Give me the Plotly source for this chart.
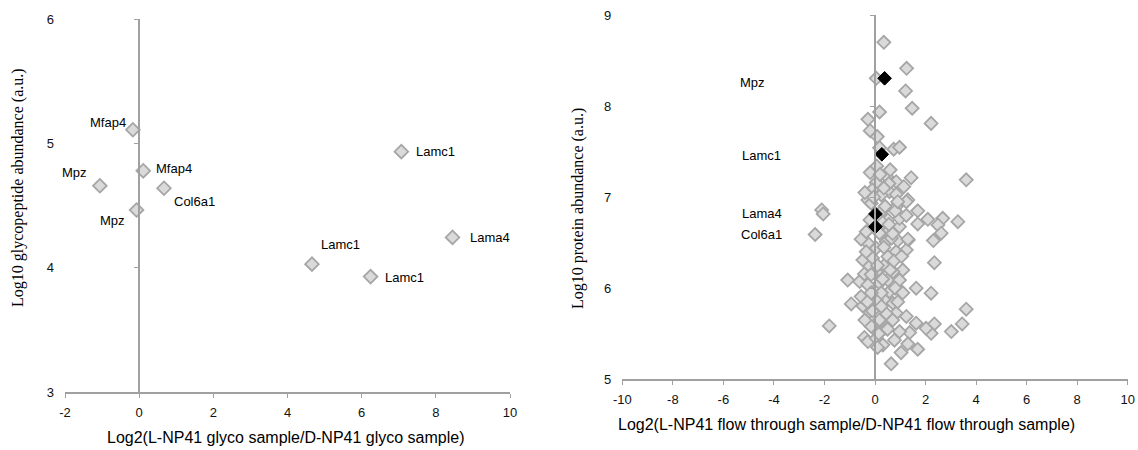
import plotly.graph_objects as go

# ---------------- Left chart: glycopeptides ----------------
glyco_labels = ["Mfap4", "Mfap4", "Mpz", "Col6a1", "Mpz", "Lamc1", "Lama4", "Lamc1", "Lamc1"]
glyco_log2 = [-0.17, 0.11, -1.06, 0.67, -0.07, 7.07, 8.45, 4.66, 6.24]
glyco_log10 = [5.11, 4.78, 4.66, 4.64, 4.465, 4.934, 4.245, 4.03, 3.93]

# ---------------- Right chart: flow-through proteins ----------------
flow_log2 = [
    0.35, 1.25, 0.05, 1.21, 1.47, 0.18, -0.28, 2.22, -0.19, 0.09, 0.18, 0.74, 0.97, 3.61,
    0.07, -0.19, 0.47, 1.43, 0.05, 0.84, 1.14, -0.11, 0.57, 0.25, 0.84, -0.28, 1.30,
    -2.11, -2.05, -2.37, 1.69, 2.09, 1.69, 2.68, 3.28, 2.49, 2.62, 2.31, 2.35, 2.22,
    3.61, 3.45, 3.02, 2.35, 2.22, -1.81, -0.94, -1.08, 0.64, 1.69, 1.03, 1.63, 1.32,
    1.63, 2.02, 1.37, 1.30, 0.31, -0.42, -0.28, 0.05, 0.77, 0.97, 1.24, 0.18, -0.15,
    0.44, -0.22, -0.48, 0.38, 0.71, 0.84, 0.05, -0.55, -0.09, 0.57, 0.97, -0.61, -0.28,
    0.18, 0.51, 0.97, 1.10, 0.71, 0.05, -0.42, -0.22, 0.38, -0.48, -0.09, 0.51, 0.84,
    1.24, 0.05, -0.28, -0.55, 0.44, 0.90, 1.30, 0.18, -0.35, 0.57, 0.97, 0.51, 0.97,
    1.24, 0.31, 0.84, -0.15, 1.24,
    0.30, 0.65, 0.10, 0.60, -0.10, 0.45, 0.75, 0.25, -0.35, 0.80, 0.55, -0.05, 0.35,
    0.70, 0.15, -0.30,
    0.20, 0.60, -0.40, 0.90, 0.40, -0.20, 0.70, 0.35, -0.15, 0.30, 0.80, -0.40, 0.50,
    0.90, 0.10, -0.15, 0.55, 1.05, 1.10, 0.25,
]
flow_log10 = [
    8.70, 8.415, 8.305, 8.166, 7.976, 7.935, 7.855, 7.81, 7.73, 7.665, 7.543, 7.526, 7.548, 7.19,
    7.34, 7.27, 7.225, 7.214, 7.16, 7.17, 7.115, 7.08, 7.06, 7.024, 7.03, 6.97, 6.97,
    6.86, 6.816, 6.59, 6.85, 6.757, 6.706, 6.768, 6.731, 6.695, 6.604, 6.523, 6.28, 5.945,
    5.77, 5.608, 5.524, 5.608, 5.505, 5.586, 5.827, 6.09, 5.17, 5.33, 5.293, 6.0, 6.53,
    5.616, 5.56, 5.513, 5.39, 5.378, 5.46, 5.414, 5.45, 5.43, 5.524, 5.69, 5.652, 5.58,
    5.56, 5.743, 5.806, 5.87, 5.835, 5.726, 5.87, 5.908, 5.945, 5.963, 5.98, 6.073, 6.036,
    6.055, 6.09, 6.09, 6.2, 6.18, 6.18, 6.157, 6.245, 6.256, 6.31, 6.33, 6.347, 6.402,
    6.42, 6.44, 6.494, 6.538, 6.51, 6.523, 6.538, 6.604, 6.62, 6.64, 6.676, 6.75, 6.768,
    6.8, 6.86, 6.896, 6.933, 6.95,
    6.72, 6.55, 6.25, 6.2, 5.75, 5.72, 6.3, 5.95, 6.4, 6.85, 7.15, 7.0, 7.1,
    5.65, 5.5, 5.85,
    7.25, 7.30, 7.05, 6.95, 6.90, 6.75, 6.60, 6.45, 6.15, 6.10, 6.00, 5.65, 5.55,
    5.85, 5.35, 5.95, 6.70, 6.35, 5.95, 5.80,
]

hl_labels = ["Mpz", "Lamc1", "Lama4", "Col6a1"]
hl_log2 = [0.38, 0.27, 0.02, 0.02]
hl_log10 = [8.305, 7.47, 6.816, 6.676]

# tick values / labels
left_xticks = [-2, 0, 2, 4, 6, 8, 10]
left_yticks = [3, 4, 5, 6]
right_xticks = [-10, -8, -6, -4, -2, 0, 2, 4, 6, 8, 10]
right_yticks = [5, 6, 7, 8, 9]

# label offsets in pixels (layout only)
glyco_label_shift = [(-25, 7), (31, 2), (-25, 13), (30, -13), (-24, -10),
                     (34, 0), (37, 0), (29, 20), (34, -1)]
hl_label_shift = [(-132, -4), (-120, -1), (-114, 0), (-114, -8)]

W, H = 1138, 450
AXIS_COLOR = "#a0a0a0"
FILL = "#dadada"
EDGE = "#a6a6a6"
FONT = "Liberation Sans, Arial, sans-serif"
SERIF = "Liberation Serif, Times New Roman, serif"

# domains (pixel -> paper)
lx0, lx1 = 65 / W, 510 / W
ly0, ly1 = (H - 392.3) / H, (H - 19) / H
rx0, rx1 = 622.3 / W, 1127.7 / W
ry0, ry1 = (H - 379.3) / H, (H - 15) / H

lrange = [-2, 10]
rrange = [-10, 10]
lzero = lx0 + (lx1 - lx0) * (0 - lrange[0]) / (lrange[1] - lrange[0])
rzero = rx0 + (rx1 - rx0) * (0 - rrange[0]) / (rrange[1] - rrange[0])

fig = go.Figure()

# carriers for the x=0 vertical axis lines (no visible marks)
fig.add_trace(go.Scatter(x=[None], y=[None], xaxis="x", yaxis="y3", mode="markers",
                         showlegend=False, hoverinfo="skip"))
fig.add_trace(go.Scatter(x=[None], y=[None], xaxis="x2", yaxis="y4", mode="markers",
                         showlegend=False, hoverinfo="skip"))

fig.add_trace(go.Scatter(
    x=glyco_log2, y=glyco_log10, mode="markers", xaxis="x", yaxis="y",
    marker=dict(symbol="diamond", size=10.5, color=FILL, line=dict(color=EDGE, width=1.8)),
    showlegend=False, hoverinfo="skip"))

fig.add_trace(go.Scatter(
    x=flow_log2, y=flow_log10, mode="markers", xaxis="x2", yaxis="y2",
    marker=dict(symbol="diamond", size=10, color=FILL, line=dict(color=EDGE, width=1.8)),
    showlegend=False, hoverinfo="skip"))

fig.add_trace(go.Scatter(
    x=hl_log2, y=hl_log10, mode="markers", xaxis="x2", yaxis="y2",
    marker=dict(symbol="diamond", size=10.5, color="black", line=dict(color="black", width=1)),
    showlegend=False, hoverinfo="skip"))

annotations = []
for lab, xv, yv, (dx, dy) in zip(glyco_labels, glyco_log2, glyco_log10, glyco_label_shift):
    annotations.append(dict(x=xv, y=yv, xref="x", yref="y", text=lab, showarrow=False,
                            xanchor="center", yanchor="middle",
                            xshift=dx, yshift=dy, font=dict(family=FONT, size=13, color="black")))
for lab, xv, yv, (dx, dy) in zip(hl_labels, hl_log2, hl_log10, hl_label_shift):
    annotations.append(dict(x=xv, y=yv, xref="x2", yref="y2", text=lab, showarrow=False,
                            xanchor="center", yanchor="middle",
                            xshift=dx, yshift=dy, font=dict(family=FONT, size=13, color="black")))

# axis titles
title_common = dict(xref="paper", yref="paper", showarrow=False, xanchor="center", yanchor="middle")
annotations += [
    dict(x=285.5 / W, y=(H - 437) / H, text="Log2(L-NP41 glyco sample/D-NP41 glyco sample)",
         font=dict(family=FONT, size=16, color="black"), **title_common),
    dict(x=846.5 / W, y=(H - 424) / H,
         text="Log2(L-NP41 flow through sample/D-NP41 flow through sample)",
         font=dict(family=FONT, size=16, color="black"), **title_common),
    dict(x=18 / W, y=(H - 188) / H, textangle=-90, text="Log10 glycopeptide abundance (a.u.)",
         font=dict(family=SERIF, size=16, color="black"), **title_common),
    dict(x=578 / W, y=(H - 209) / H, textangle=-90, text="Log10 protein abundance (a.u.)",
         font=dict(family=SERIF, size=16, color="black"), **title_common),
]

tickfont = dict(family=FONT, size=13, color="#111111")

xcommon = dict(showgrid=False, zeroline=False, showline=True, linecolor=AXIS_COLOR, linewidth=1.5,
               ticks="outside", ticklen=4, tickcolor=AXIS_COLOR, tickwidth=1.2,
               tickfont=tickfont, fixedrange=True, ticklabelstandoff=3, automargin=False)
ycommon = dict(showgrid=False, zeroline=False, showline=False, ticks="",
               tickfont=tickfont, fixedrange=True, ticklabelstandoff=10, automargin=False)
vline = dict(showgrid=False, zeroline=False, showline=True, linecolor=AXIS_COLOR, linewidth=1.5,
             ticks="outside", ticklen=4, tickcolor=AXIS_COLOR, tickwidth=1.2, dtick=1,
             showticklabels=False, anchor="free", side="left", fixedrange=True,
             automargin=False)

fig.update_layout(
    width=W, height=H, margin=dict(l=0, r=0, t=0, b=0, autoexpand=False),
    paper_bgcolor="white", plot_bgcolor="white", showlegend=False,
    xaxis=dict(domain=[lx0, lx1], range=lrange, anchor="y",
               tickvals=left_xticks, ticktext=[str(v) for v in left_xticks], **xcommon),
    yaxis=dict(domain=[ly0, ly1], range=[3, 6], anchor="x",
               tickvals=left_yticks, ticktext=[str(v) for v in left_yticks], **ycommon),
    yaxis3=dict(overlaying="y", range=[3, 6], position=lzero, **vline),
    xaxis2=dict(domain=[rx0, rx1], range=rrange, anchor="y2",
                tickvals=right_xticks, ticktext=[str(v) for v in right_xticks], **xcommon),
    yaxis2=dict(domain=[ry0, ry1], range=[5, 9], anchor="x2",
                tickvals=right_yticks, ticktext=[str(v) for v in right_yticks], **ycommon),
    yaxis4=dict(overlaying="y2", range=[5, 9], position=rzero, **vline),
    annotations=annotations,
)

fig.write_html(
    "out.html",
    config={"displayModeBar": False},
    post_script="document.body.style.margin='0';document.body.style.overflow='hidden';",
)
